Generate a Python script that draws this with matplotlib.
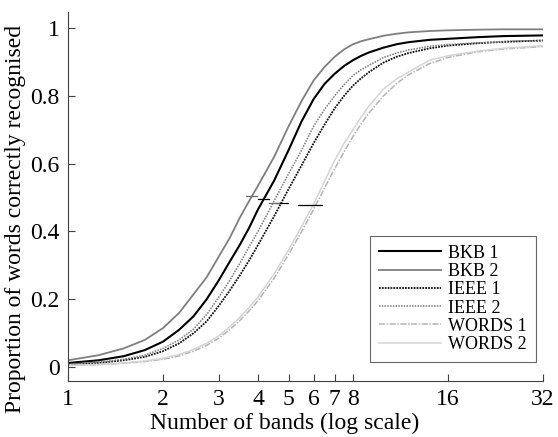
"""Proportion of words correctly recognised against number of bands."""
import matplotlib
matplotlib.use("Agg")
import matplotlib.pyplot as plt

bands = [1, 1.25, 1.5, 1.75, 2, 2.25, 2.5, 2.75, 3, 3.25, 3.5, 3.75, 4, 4.5,
         5, 5.5, 6, 6.5, 7, 7.5, 8, 8.5, 9, 10, 11, 12, 14, 16, 20, 24, 32]

bkb1 = [0.012, 0.02, 0.032, 0.05, 0.075, 0.11, 0.15, 0.20, 0.255, 0.31, 0.36,
        0.411, 0.465, 0.55, 0.64, 0.725, 0.79, 0.835, 0.865, 0.888, 0.905,
        0.918, 0.928, 0.942, 0.952, 0.958, 0.965, 0.968, 0.973, 0.976, 0.978]
bkb2 = [0.02, 0.035, 0.055, 0.08, 0.115, 0.16, 0.215, 0.265, 0.325, 0.38,
        0.44, 0.49, 0.535, 0.62, 0.71, 0.785, 0.845, 0.885, 0.915, 0.937,
        0.952, 0.961, 0.967, 0.977, 0.983, 0.987, 0.991, 0.993, 0.995, 0.996,
        0.996]
ieee1 = [0.007, 0.012, 0.02, 0.03, 0.047, 0.07, 0.10, 0.135, 0.18, 0.225,
         0.27, 0.315, 0.36, 0.445, 0.525, 0.595, 0.66, 0.715, 0.763, 0.80,
         0.83, 0.852, 0.87, 0.898, 0.915, 0.926, 0.94, 0.948, 0.955, 0.959,
         0.963]
ieee2 = [0.008, 0.014, 0.023, 0.035, 0.055, 0.08, 0.112, 0.155, 0.205, 0.255,
         0.305, 0.355, 0.40, 0.49, 0.57, 0.64, 0.71, 0.76, 0.80, 0.833, 0.86,
         0.877, 0.89, 0.913, 0.926, 0.935, 0.946, 0.951, 0.956, 0.96, 0.963]
words1 = [0.005, 0.007, 0.011, 0.016, 0.023, 0.033, 0.047, 0.064, 0.085, 0.11,
          0.137, 0.166, 0.196, 0.262, 0.332, 0.40, 0.465, 0.528, 0.585, 0.635,
          0.68, 0.718, 0.75, 0.80, 0.836, 0.862, 0.895, 0.913, 0.93, 0.938,
          0.945]
words2 = [0.005, 0.008, 0.012, 0.018, 0.026, 0.037, 0.052, 0.07, 0.092, 0.118,
          0.146, 0.176, 0.207, 0.275, 0.345, 0.415, 0.48, 0.548, 0.61, 0.66,
          0.70, 0.738, 0.77, 0.82, 0.85, 0.87, 0.905, 0.918, 0.932, 0.94,
          0.948]

labels = ["BKB 1", "BKB 2", "IEEE 1", "IEEE 2", "WORDS 1", "WORDS 2"]

# threshold intervals (left band, right band, proportion)
ci_left = [4.0, 3.66, 4.56, 4.33, 5.35]
ci_right = [4.33, 3.97, 4.97, 4.66, 6.36]
ci_level = [0.495, 0.505, 0.485, 0.483, 0.478]

plt.rcParams["font.family"] = ["Liberation Serif", "DejaVu Serif"]

fig = plt.figure(figsize=(5.58, 4.37), dpi=100)
ax = fig.add_axes([0.122, 0.128, 0.851, 0.8445])

series = [bkb1, bkb2, ieee1, ieee2, words1, words2]
styles = [
    dict(color="black", lw=1.5, ls="-"),
    dict(color="#7f7f7f", lw=1.3, ls="-"),
    dict(color="#111111", lw=1.3, ls=(0, (1, 0.6))),
    dict(color="#7a7a7a", lw=1.1, ls=(0, (1, 0.8))),
    dict(color="#b4b4b4", lw=1.1, ls=(0, (4, 1, 1, 1))),
    dict(color="#d4d4d4", lw=1.1, ls="-"),
]
for ys, lab, st in zip(series, labels, styles):
    ax.plot(bands, ys, label=lab, **st)

ci_colors = ["black", "#6a6a6a", "black", "#6a6a6a", "black"]
for l, r, yv, c in zip(ci_left, ci_right, ci_level, ci_colors):
    ax.plot([l, r], [yv, yv], color=c, lw=0.9)

ax.set_xscale("log", base=2)
ax.set_xlim(1, 32)
ax.set_ylim(-0.0413, 1.047)
xt = [1, 2, 3, 4, 5, 6, 7, 8, 16, 32]
ax.set_xticks(xt)
ax.set_xticklabels([str(v) for v in xt])
ax.xaxis.set_minor_locator(matplotlib.ticker.NullLocator())
ax.set_yticks([0, 0.2, 0.4, 0.6, 0.8, 1])
ax.set_yticklabels(["0", "0.2", "0.4", "0.6", "0.8", "1"])
ax.tick_params(direction="in", length=5, width=0.8, labelsize=17, pad=6,
               color="#404040")
for side in ["top", "right"]:
    ax.spines[side].set_visible(False)
for side in ["left", "bottom"]:
    ax.spines[side].set_color("#404040")
    ax.spines[side].set_linewidth(0.8)

ax.set_xlabel("Number of bands (log scale)", fontsize=17)
ax.set_ylabel("Proportion of words correctly recognised", fontsize=17)
ax.xaxis.set_label_coords(0.457, -0.085)
ax.yaxis.set_label_coords(-0.088, 0.44)

leg = ax.legend(loc="lower right", bbox_to_anchor=(0.985, 0.0515),
                fontsize=13, frameon=True, fancybox=False, handlelength=3.4,
                borderpad=0.5, labelspacing=0.07, handletextpad=0.4,
                borderaxespad=0)
leg.get_frame().set_edgecolor("#404040")
leg.get_frame().set_linewidth(0.8)

fig.savefig("out.png", dpi=100)
